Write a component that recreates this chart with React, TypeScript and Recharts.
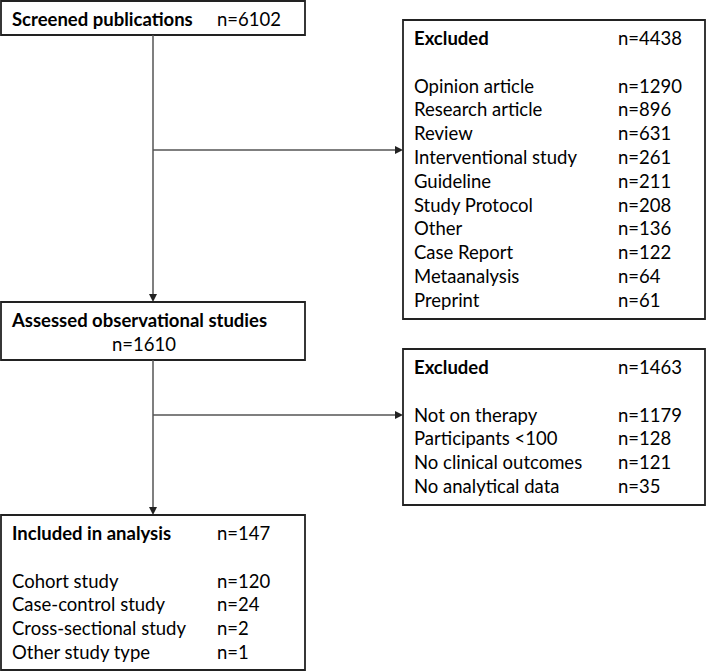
import React from "react";
import { ScatterChart, Scatter, XAxis, YAxis, ReferenceArea, ReferenceLine } from "recharts";

const W = 708;
const H = 672;

// box contents
const screenedTitle = "Screened publications";
const screenedN = 6102;

const excludedFirstN = 4438;
const excludedFirstReasons = [
  "Opinion article",
  "Research article",
  "Review",
  "Interventional study",
  "Guideline",
  "Study Protocol",
  "Other",
  "Case Report",
  "Metaanalysis",
  "Preprint",
];
const excludedFirstCounts = [1290, 896, 631, 261, 211, 208, 136, 122, 64, 61];

const assessedTitle = "Assessed observational studies";
const assessedN = 1610;

const excludedSecondN = 1463;
const excludedSecondReasons = ["Not on therapy", "Participants <100", "No clinical outcomes", "No analytical data"];
const excludedSecondCounts = [1179, 128, 121, 35];

const includedTitle = "Included in analysis";
const includedN = 147;
const includedTypes = ["Cohort study", "Case-control study", "Cross-sectional study", "Other study type"];
const includedCounts = [120, 24, 2, 1];

// layout (chart units = pixels)
const LINE = 23.8;
const TRUNK_X = 153;
const boxes = {
  screened: { x1: 1, x2: 305, y1: 1, y2: 35 },
  excl1: { x1: 403, x2: 705, y1: 20, y2: 319 },
  assessed: { x1: 1, x2: 305, y1: 302, y2: 360 },
  excl2: { x1: 403, x2: 705, y1: 349, y2: 505 },
  included: { x1: 1, x2: 305, y1: 515, y2: 670 },
};
const LEFT_NUM_X = 217;
const RIGHT_NUM_X = 618;

type Label = { x: number; y: number; text: string; bold?: boolean; anchor?: string };

function listBox(
  box: { x1: number; y1: number },
  title: string,
  total: number,
  names: string[],
  counts: number[],
  numX: number
): Label[] {
  const tx = box.x1 + 11;
  const ty = box.y1 + 18;
  const out: Label[] = [
    { x: tx, y: ty, text: title, bold: true },
    { x: numX, y: ty, text: `n=${total}` },
  ];
  names.forEach((name, i) => {
    const y = ty + (i + 2) * LINE;
    out.push({ x: tx, y, text: name });
    out.push({ x: numX, y, text: `n=${counts[i]}` });
  });
  return out;
}

const labels: Label[] = [
  { x: boxes.screened.x1 + 11, y: boxes.screened.y1 + 18, text: screenedTitle, bold: true },
  { x: LEFT_NUM_X, y: boxes.screened.y1 + 18, text: `n=${screenedN}` },
  ...listBox(boxes.excl1, "Excluded", excludedFirstN, excludedFirstReasons, excludedFirstCounts, RIGHT_NUM_X),
  { x: boxes.assessed.x1 + 11, y: boxes.assessed.y1 + 18, text: assessedTitle, bold: true },
  { x: 144, y: boxes.assessed.y1 + 18 + LINE, text: `n=${assessedN}`, anchor: "middle" },
  ...listBox(boxes.excl2, "Excluded", excludedSecondN, excludedSecondReasons, excludedSecondCounts, RIGHT_NUM_X),
  ...listBox(boxes.included, includedTitle, includedN, includedTypes, includedCounts, LEFT_NUM_X),
];

const arrows = [
  [{ x: TRUNK_X, y: boxes.screened.y2 }, { x: TRUNK_X, y: boxes.assessed.y1 }],
  [{ x: TRUNK_X, y: 150 }, { x: boxes.excl1.x1, y: 150 }],
  [{ x: TRUNK_X, y: boxes.assessed.y2 }, { x: TRUNK_X, y: boxes.included.y1 }],
  [{ x: TRUNK_X, y: 415 }, { x: boxes.excl2.x1, y: 415 }],
];

function Arrow(props: any) {
  const { x1, y1, x2, y2 } = props;
  const dx = x2 - x1;
  const dy = y2 - y1;
  const len = Math.hypot(dx, dy) || 1;
  const ux = dx / len;
  const uy = dy / len;
  const head = 8;
  const half = 4;
  const bx = x2 - ux * head;
  const by = y2 - uy * head;
  const pts = `${x2},${y2} ${bx - uy * half},${by + ux * half} ${bx + uy * half},${by - ux * half}`;
  return (
    <g>
      <line x1={x1} y1={y1} x2={bx} y2={by} stroke="#555" strokeWidth={1.5} />
      <polygon points={pts} fill="#222" />
    </g>
  );
}

function TextMark(props: any) {
  const { cx, cy, payload } = props;
  return (
    <text
      x={cx}
      y={cy}
      dominantBaseline="central"
      textAnchor={payload.anchor || "start"}
      fontFamily="Lato, sans-serif"
      fontSize={18.5}
      fontWeight={payload.bold ? 700 : 400}
      fill="#000"
    >
      {payload.text}
    </text>
  );
}

export default function App() {
  return (
    <div style={{ position: "fixed", left: 0, top: 0, width: W, height: H, background: "#fff" }}>
      <ScatterChart width={W} height={H} margin={{ top: 0, right: 0, bottom: 0, left: 0 }}>
        <XAxis type="number" dataKey="x" domain={[0, W]} hide allowDataOverflow />
        <YAxis type="number" dataKey="y" domain={[0, H]} reversed hide allowDataOverflow />
        {Object.entries(boxes).map(([key, b]) => (
          <ReferenceArea
            key={key}
            x1={b.x1}
            x2={b.x2}
            y1={b.y1}
            y2={b.y2}
            fill="#fff"
            fillOpacity={1}
            stroke="#222"
            strokeWidth={1.8}
          />
        ))}
        {arrows.map((seg, i) => (
          <ReferenceLine key={i} segment={seg} shape={Arrow} />
        ))}
        <Scatter data={labels} dataKey="y" shape={TextMark} isAnimationActive={false} />
      </ScatterChart>
    </div>
  );
}
